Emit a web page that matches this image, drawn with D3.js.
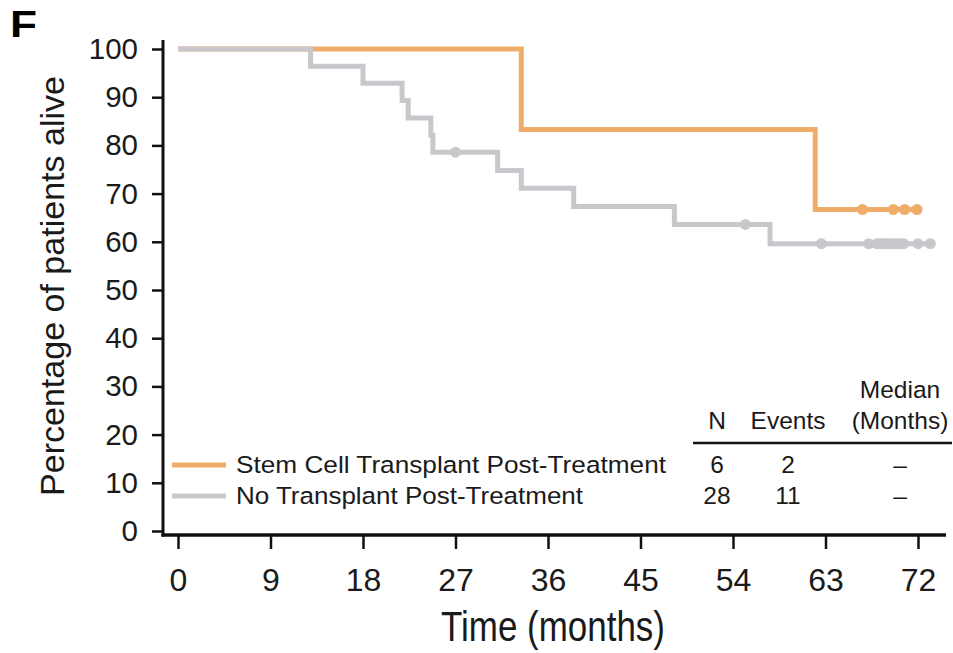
<!DOCTYPE html>
<html>
<head>
<meta charset="utf-8">
<script src="https://cdn.jsdelivr.net/npm/d3@7"></script>
<style>
  html, body { margin: 0; padding: 0; background: #fff; }
  svg { display: block; font-family: "Liberation Sans", Arial, Helvetica, sans-serif; }
</style>
</head>
<body>
<svg id="chart" width="953" height="653"></svg>
<script>
// ---- Data ----
const xTicks = [0, 9, 18, 27, 36, 45, 54, 63, 72];
const yTicks = [0, 10, 20, 30, 40, 50, 60, 70, 80, 90, 100];

// Stem Cell Transplant Post-Treatment
const stemTimes = [0, 33.4, 62.0];
const stemSurv  = [100, 83.3, 66.7];
const stemEnd = 71.9;
const stemCensor = [66.6, 69.6, 70.7, 71.9];

// No Transplant Post-Treatment
const noTxTimes = [0, 12.9, 18.0, 21.8, 22.4, 24.6, 24.8, 31.1, 33.4, 38.5, 48.3, 57.6];
const noTxSurv  = [100, 96.4, 92.9, 89.3, 85.7, 82.1, 78.6, 74.8, 71.1, 67.3, 63.6, 59.6];
const noTxEnd = 73.2;
const noTxCensor = [27.0, 55.2, 62.6, 67.2, 68.0, 68.2, 68.4, 68.7, 68.9, 69.1, 69.4, 69.7, 70.0, 70.3, 70.6, 72.0, 73.2];

const groupNames = ["Stem Cell Transplant Post-Treatment", "No Transplant Post-Treatment"];
const groupN = ["6", "28"];
const groupEvents = ["2", "11"];
const groupMedian = ["–", "–"];
const groupColors = ["#F0AD69", "#C9C7CB"];

// ---- Layout ----
const svg = d3.select("#chart");
const x = d3.scaleLinear().domain([0, 72]).range([178, 918]);
const y = d3.scaleLinear().domain([0, 100]).range([531, 49]);
const axisColor = "#111";
const textColor = "#1a1a1a";

function buildSeries(times, surv, end) {
  const pts = times.map((t, i) => [t, surv[i]]);
  pts.push([end, surv[surv.length - 1]]);
  return pts;
}
function survAt(times, surv, t) {
  let v = surv[0];
  for (let i = 0; i < times.length; i++) if (times[i] <= t) v = surv[i];
  return v;
}

const line = d3.line()
  .x(d => x(d[0]))
  .y(d => y(d[1]))
  .curve(d3.curveStepAfter);

const series = [
  { pts: buildSeries(stemTimes, stemSurv, stemEnd), censor: stemCensor, times: stemTimes, surv: stemSurv, color: groupColors[0] },
  { pts: buildSeries(noTxTimes, noTxSurv, noTxEnd), censor: noTxCensor, times: noTxTimes, surv: noTxSurv, color: groupColors[1] }
];

series.forEach(s => {
  svg.append("path")
    .attr("d", line(s.pts))
    .attr("fill", "none")
    .attr("stroke", s.color)
    .attr("stroke-width", 5)
    .attr("stroke-linejoin", "miter")
    .attr("stroke-linecap", "butt");
  svg.append("g").selectAll("circle")
    .data(s.censor)
    .join("circle")
    .attr("cx", d => x(d))
    .attr("cy", d => y(survAt(s.times, s.surv, d)))
    .attr("r", 5.5)
    .attr("fill", s.color);
});

// ---- Axes ----
const yAxis = d3.axisLeft(y).tickValues(yTicks).tickSize(11).tickPadding(14);
const gy = svg.append("g").attr("transform", "translate(163,0)").call(yAxis);
gy.select(".domain").remove();
gy.selectAll(".tick line").attr("stroke", axisColor).attr("stroke-width", 2.5);
gy.selectAll(".tick text").attr("fill", textColor).style("font-size", "29.5px")
  .style("font-family", '"Liberation Sans", Arial, sans-serif');
svg.append("line").attr("x1", 163).attr("x2", 163).attr("y1", 40).attr("y2", 536.5)
  .attr("stroke", axisColor).attr("stroke-width", 3);

const xAxis = d3.axisBottom(x).tickValues(xTicks).tickSize(14).tickPadding(19);
const gx = svg.append("g").attr("transform", "translate(0,535)").call(xAxis);
gx.select(".domain").remove();
gx.selectAll(".tick line").attr("stroke", axisColor).attr("stroke-width", 2.5);
gx.selectAll(".tick text").attr("fill", textColor).style("font-size", "32px")
  .style("font-family", '"Liberation Sans", Arial, sans-serif');
svg.append("line").attr("x1", 161.5).attr("x2", 946).attr("y1", 535).attr("y2", 535)
  .attr("stroke", axisColor).attr("stroke-width", 3.5);

// Axis titles
svg.append("text")
  .attr("x", 553).attr("y", 641)
  .attr("text-anchor", "middle")
  .attr("fill", textColor)
  .style("font-size", "42px")
  .attr("textLength", 224).attr("lengthAdjust", "spacingAndGlyphs")
  .text("Time (months)");

svg.append("text")
  .attr("transform", "translate(64,286) rotate(-90)")
  .attr("text-anchor", "middle")
  .attr("fill", textColor)
  .style("font-size", "34px")
  .attr("textLength", 420).attr("lengthAdjust", "spacingAndGlyphs")
  .text("Percentage of patients alive");

// Panel letter
svg.append("text")
  .attr("x", 10).attr("y", 37)
  .attr("fill", "#000")
  .style("font-size", "36px").style("font-weight", "bold")
  .attr("textLength", 27).attr("lengthAdjust", "spacingAndGlyphs")
  .text("F");

// ---- Legend / table ----
const legendRowsY = [473, 504];
const tblFont = "24.5px";
const colN = 717, colEv = 788, colMed = 900;

svg.append("text").attr("x", colMed).attr("y", 398).attr("text-anchor", "middle")
  .attr("fill", textColor).style("font-size", tblFont).text("Median");
svg.append("text").attr("x", colMed).attr("y", 429).attr("text-anchor", "middle")
  .attr("fill", textColor).style("font-size", tblFont).text("(Months)");
svg.append("text").attr("x", colN).attr("y", 429).attr("text-anchor", "middle")
  .attr("fill", textColor).style("font-size", tblFont).text("N");
svg.append("text").attr("x", colEv).attr("y", 429).attr("text-anchor", "middle")
  .attr("fill", textColor).style("font-size", tblFont).text("Events");
svg.append("line").attr("x1", 693).attr("x2", 952).attr("y1", 443).attr("y2", 443)
  .attr("stroke", axisColor).attr("stroke-width", 2.5);

const nameLengths = [430, 347];
groupNames.forEach((name, i) => {
  const by = legendRowsY[i];
  svg.append("line").attr("x1", 172).attr("x2", 226).attr("y1", by - 8).attr("y2", by - 8)
    .attr("stroke", groupColors[i]).attr("stroke-width", 5);
  svg.append("text").attr("x", 236).attr("y", by)
    .attr("fill", textColor).style("font-size", "24.5px")
    .attr("textLength", nameLengths[i]).attr("lengthAdjust", "spacingAndGlyphs")
    .text(name);
  svg.append("text").attr("x", colN).attr("y", by).attr("text-anchor", "middle")
    .attr("fill", textColor).style("font-size", tblFont).text(groupN[i]);
  svg.append("text").attr("x", colEv).attr("y", by).attr("text-anchor", "middle")
    .attr("fill", textColor).style("font-size", tblFont).text(groupEvents[i]);
  svg.append("text").attr("x", colMed).attr("y", by).attr("text-anchor", "middle")
    .attr("fill", textColor).style("font-size", tblFont).text(groupMedian[i]);
});
</script>
</body>
</html>
